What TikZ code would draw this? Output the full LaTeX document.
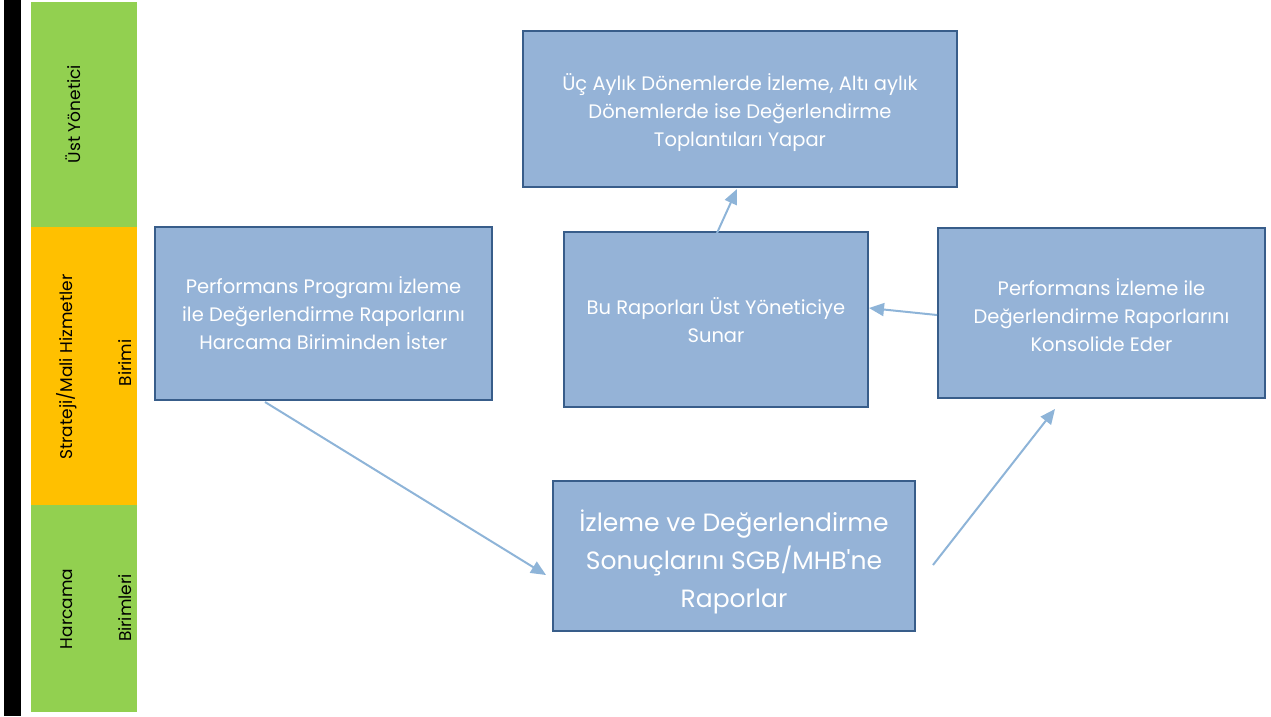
\documentclass[tikz,border=0pt]{standalone}
\usepackage{fontspec}
\setmainfont{Poppins}
\usetikzlibrary{arrows.meta,calc}
\definecolor{lanegreen}{HTML}{92D050}
\definecolor{laneorange}{HTML}{FFC000}
\definecolor{boxfill}{HTML}{95B3D7}
\definecolor{boxline}{HTML}{385D8A}
\definecolor{arrowcol}{HTML}{8EB4D8}
\newcommand{\straightap}{{\addfontfeatures{Ligatures=TeXOff}'}}
\begin{document}
\begin{tikzpicture}[x=1pt,y=-1pt,
  lane/.style={inner sep=0pt, minimum width=106pt},
  lanetext/.style={rotate=90, inner sep=0pt, font=\fontsize{17}{20}\selectfont},
  procbox/.style={draw=boxline, line width=2pt, fill=boxfill, inner sep=0pt},
  boxtext/.style={text=white, align=center, inner sep=0pt, font=\fontsize{19.5}{28}\selectfont},
  arr/.style={draw=arrowcol, line width=2pt, -{Triangle[length=15pt,width=13pt]}}]
\useasboundingbox (0,0) rectangle (1271,716);
\fill[black] (4,0) rectangle (21,716);
\node[lane, fill=lanegreen, minimum height=225pt] (l1) at (84,114.5) {};
\node[lane, fill=laneorange, minimum height=278pt] (l2) at (84,366) {};
\node[lane, fill=lanegreen, minimum height=207pt] (l3) at (84,608.5) {};
\node[lanetext] (t1) at (73,114) {Üst Yönetici};
\node[lanetext] (t2a) at (67,367) {Strateji/Mali Hizmetler};
\node[lanetext] (t2b) at (125,363) {Birimi};
\node[lanetext] (t3a) at (67,609) {Harcama};
\node[lanetext] (t3b) at (125,608) {Birimleri};
\node[procbox, minimum width=434pt, minimum height=156pt] (top) at (740,109) {};
\node[boxtext] (toptext) at ([yshift=-4pt]top.center) {Üç Aylık Dönemlerde İzleme, Altı aylık\\Dönemlerde ise Değerlendirme\\Toplantıları Yapar};
\node[procbox, minimum width=337pt, minimum height=173pt] (left) at (323.5,313.5) {};
\node[boxtext] (lefttext) at (left.center) {Performans Programı İzleme\\ile Değerlendirme Raporlarını\\Harcama Biriminden İster};
\node[procbox, minimum width=304pt, minimum height=175pt] (mid) at (716,319.5) {};
\node[boxtext] (midtext) at ([yshift=-1pt]mid.center) {Bu Raporları Üst Yöneticiye\\Sunar};
\node[procbox, minimum width=327pt, minimum height=170pt] (right) at (1101.5,313) {};
\node[boxtext] (righttext) at ([yshift=-2pt]right.center) {Performans İzleme ile\\Değerlendirme Raporlarını\\Konsolide Eder};
\node[procbox, minimum width=362pt, minimum height=150pt] (bot) at (734,556) {};
\node[boxtext, font=\fontsize{25}{38}\selectfont] (bottext) at ([yshift=-6pt]bot.center) {İzleme ve Değerlendirme\\Sonuçlarını SGB/MHB\straightap ne\\Raporlar};
\draw[arr] ([xshift=-58.5pt,yshift=-1pt]left.south) -- ([xshift=-6pt,yshift=-19pt]bot.west);
\draw[arr] ([xshift=17pt,yshift=-9pt]bot.east) -- ([xshift=-46.5pt,yshift=-10pt]right.south);
\draw[arr] ([yshift=-2pt]right.west) -- ([yshift=11.5pt]mid.east);
\draw[arr] ([xshift=1pt,yshift=-2pt]mid.north) -- ([xshift=-3pt,yshift=-1pt]top.south);
\end{tikzpicture}
\end{document}
